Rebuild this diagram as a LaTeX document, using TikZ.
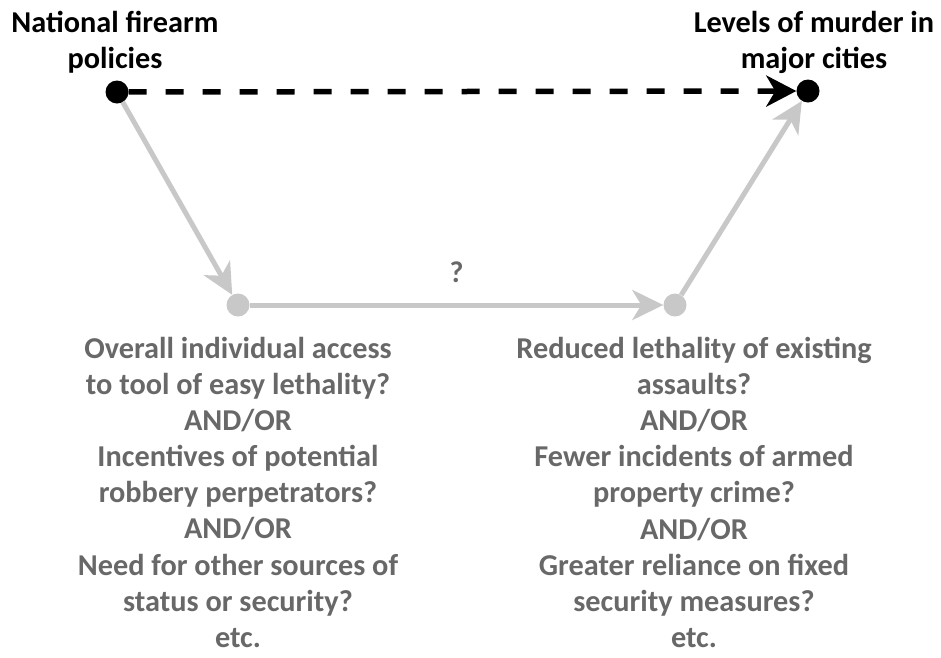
\documentclass[tikz,border=0pt]{standalone}
\usepackage{fontspec}
\setmainfont{Carlito}
\usetikzlibrary{arrows.meta}
\definecolor{linegray}{RGB}{200,200,200}
\definecolor{textgray}{RGB}{104,104,104}
\begin{document}
\begin{tikzpicture}[x=1pt,y=-1pt,
  blackdot/.style={circle, fill=black, inner sep=0pt, minimum size=23pt},
  graydot/.style={circle, fill=linegray, inner sep=0pt, minimum size=23pt},
  heading/.style={font=\fontsize{30.3}{36}\selectfont\bfseries, align=center, inner sep=0pt},
  reason/.style={font=\fontsize{30.3}{36.1}\selectfont\bfseries, text=textgray, align=center, inner sep=0pt},
  grayarrow/.style={draw=linegray, line width=5pt, -{Stealth[length=31pt,width=30pt,inset=9pt]}},
  dasharrow/.style={draw=black, line width=5.5pt, dash pattern=on 18pt off 19pt, -{Stealth[length=30pt,width=31pt,inset=9pt]}}]
\useasboundingbox (0,0) rectangle (941,657);

% end points of the causal chain
\node[blackdot] (policy) at (117,92) {};
\node[blackdot] (murder) at (808,91) {};
\node[graydot] (access) at (238,305) {};
\node[graydot] (lethal) at (675,305) {};

% headings
\node[heading, anchor=north] (policytxt) at (115,11) {National firearm\\policies};
\node[heading, anchor=north] (murdertxt) at (814,11) {Levels of murder in\\major cities};

% connectors
\draw[dasharrow] (policy) -- (murder);
\draw[grayarrow] (policy) -- (access);
\draw[grayarrow] (access) -- node[above=16pt, font=\fontsize{30}{36}\selectfont\bfseries, text=textgray] (q) {?} (lethal);
\draw[grayarrow] (lethal) -- (murder);

% intermediate mechanisms
\node[reason, anchor=north] (accesstxt) at (238,337) {Overall individual access\\to tool of easy lethality?\\AND/OR\\Incentives of potential\\robbery perpetrators?\\AND/OR\\Need for other sources of\\status or security?\\etc.};
\node[reason, anchor=north] (lethaltxt) at (694,337) {Reduced lethality of existing\\assaults?\\AND/OR\\Fewer incidents of armed\\property crime?\\AND/OR\\Greater reliance on fixed\\security measures?\\etc.};
\end{tikzpicture}
\end{document}
